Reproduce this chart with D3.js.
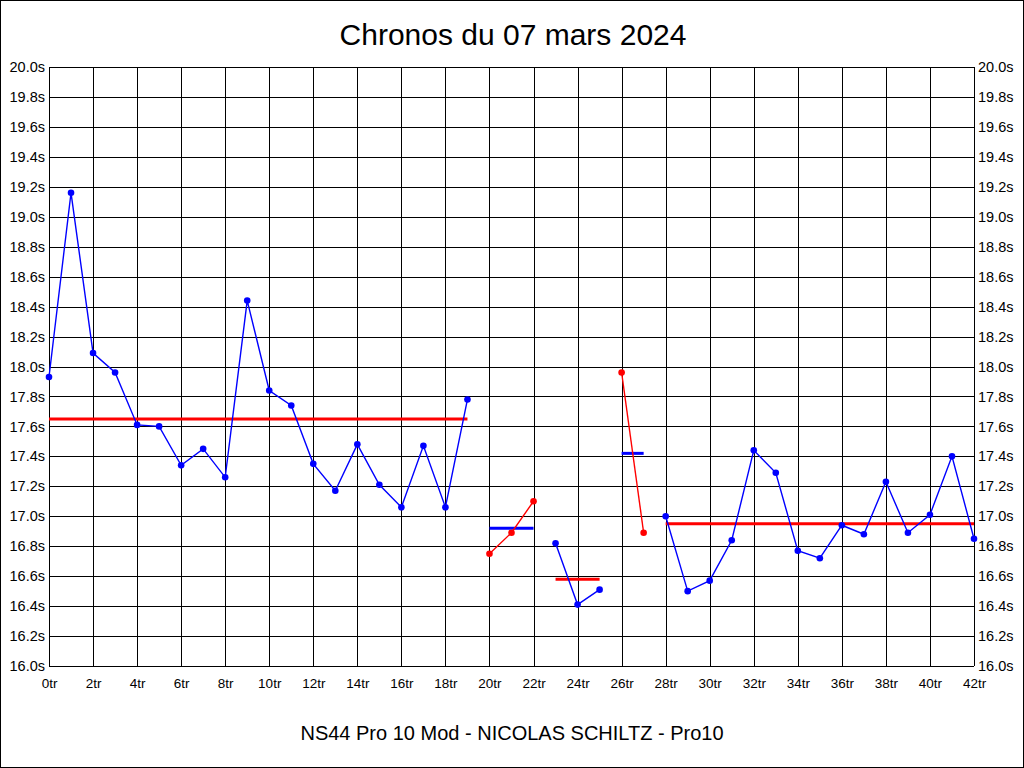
<!DOCTYPE html>
<html><head><meta charset="utf-8">
<script src="https://cdn.jsdelivr.net/npm/d3@7"></script>
<style>body{margin:0;background:#fff;} svg{display:block;} text{font-family:"Liberation Sans",Arial,sans-serif;}</style>
</head><body>
<svg id="c" width="1024" height="768"></svg>
<script>
const title = "Chronos du 07 mars 2024";
const subtitle = "NS44 Pro 10 Mod - NICOLAS SCHILTZ - Pro10";
// lap times per stint (lap index, seconds)
const stint1Laps = [0,1,2,3,4,5,6,7,8,9,10,11,12,13,14,15,16,17,18,19];
const stint1Times = [17.93,19.16,18.09,17.96,17.61,17.60,17.34,17.45,17.26,18.44,17.84,17.74,17.35,17.17,17.48,17.21,17.06,17.47,17.06,17.78];
const stint2Laps = [20,21,22];
const stint2Times = [16.75,16.89,17.10];
const stint3Laps = [23,24,25];
const stint3Times = [16.82,16.41,16.51];
const stint4Laps = [26,27];
const stint4Times = [17.96,16.89];
const stint5Laps = [28,29,30,31,32,33,34,35,36,37,38,39,40,41,42];
const stint5Times = [17.00,16.50,16.57,16.84,17.44,17.29,16.77,16.72,16.94,16.88,17.23,16.89,17.01,17.40,16.85];
const stintColors = ["#0000ff","#ff0000","#0000ff","#ff0000","#0000ff"];
const avgColors = ["#ff0000","#0000ff","#ff0000","#0000ff","#ff0000"];
const stintAvg = [17.65,16.92,16.58,17.42,16.95];
const xTicks = [0,2,4,6,8,10,12,14,16,18,20,22,24,26,28,30,32,34,36,38,40,42];
const yTicks = [16.0,16.2,16.4,16.6,16.8,17.0,17.2,17.4,17.6,17.8,18.0,18.2,18.4,18.6,18.8,19.0,19.2,19.4,19.6,19.8,20.0];

const stints = [
  {laps:stint1Laps,times:stint1Times},
  {laps:stint2Laps,times:stint2Times},
  {laps:stint3Laps,times:stint3Times},
  {laps:stint4Laps,times:stint4Times},
  {laps:stint5Laps,times:stint5Times}
];

const svg = d3.select("#c");
const L=49, R=974, T=67, B=666;
const x = d3.scaleLinear().domain([0,42]).range([L,R]);
const y = d3.scaleLinear().domain([16,20]).range([B,T]);

svg.append("rect").attr("x",0.5).attr("y",0.5).attr("width",1023).attr("height",767)
  .attr("fill","#fff").attr("stroke","#000").attr("stroke-width",1);

// grid
const g = svg.append("g").attr("shape-rendering","crispEdges");
g.selectAll(".vg").data(xTicks).join("line")
  .attr("x1",d=>Math.round(x(d))+0.5).attr("x2",d=>Math.round(x(d))+0.5)
  .attr("y1",T).attr("y2",B).attr("stroke","#000").attr("stroke-width",1);
g.selectAll(".hg").data(yTicks).join("line")
  .attr("y1",d=>Math.round(y(d))+0.5).attr("y2",d=>Math.round(y(d))+0.5)
  .attr("x1",L).attr("x2",R).attr("stroke","#000").attr("stroke-width",1);

// axes labels
const fmtY = d=>d.toFixed(1)+"s";
const yl = d3.axisLeft(y).tickValues(yTicks).tickFormat(fmtY).tickSize(0).tickPadding(4);
const yr = d3.axisRight(y).tickValues(yTicks).tickFormat(fmtY).tickSize(0).tickPadding(4);
const xb = d3.axisBottom(x).tickValues(xTicks).tickFormat(d=>d+"tr").tickSize(0).tickPadding(12);
function styleAxis(size){
  return sel=>{
    sel.select(".domain").remove();
    sel.selectAll("text").attr("font-family","'Liberation Sans',Arial,sans-serif").attr("font-size",size).attr("fill","#000");
  };
}
svg.append("g").attr("transform",`translate(${L},0)`).call(yl).call(styleAxis(14.5));
svg.append("g").attr("transform",`translate(${R},0)`).call(yr).call(styleAxis(14.5));
svg.append("g").attr("transform",`translate(0,${B})`).call(xb).call(styleAxis(13.5));

// averages
stints.forEach((s,i)=>{
  svg.append("line")
    .attr("x1",x(d3.min(s.laps))).attr("x2",x(d3.max(s.laps)))
    .attr("y1",y(stintAvg[i])).attr("y2",y(stintAvg[i]))
    .attr("stroke",avgColors[i]).attr("stroke-width",3);
});

// lines and points
const line = d3.line().x(d=>x(d[0])).y(d=>y(d[1]));
stints.forEach((s,i)=>{
  const pts = s.laps.map((l,k)=>[l,s.times[k]]);
  svg.append("path").attr("d",line(pts)).attr("fill","none")
    .attr("stroke",stintColors[i]).attr("stroke-width",1.4);
  svg.append("g").selectAll("circle").data(pts).join("circle")
    .attr("cx",d=>x(d[0])).attr("cy",d=>y(d[1])).attr("r",3.3)
    .attr("fill",stintColors[i]);
});

svg.append("text").attr("x",513).attr("y",45).attr("text-anchor","middle")
  .attr("font-size",30).attr("fill","#000").text(title);
svg.append("text").attr("x",512).attr("y",740).attr("text-anchor","middle")
  .attr("font-size",20).attr("fill","#000").text(subtitle);
</script>
</body></html>
